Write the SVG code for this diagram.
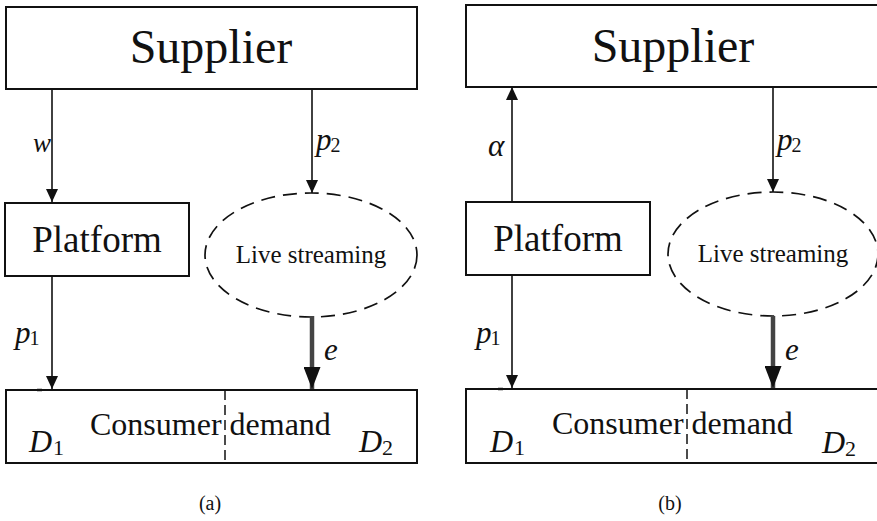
<svg xmlns="http://www.w3.org/2000/svg" width="877" height="521" viewBox="0 0 877 521">
<style>
.box{fill:#fff;stroke:#111;stroke-width:2}
.ell{fill:#fff;stroke:#111;stroke-width:1.7;stroke-dasharray:14 8}
.div{stroke:#111;stroke-width:1.5;stroke-dasharray:10 5}
.arr{stroke:#111;stroke-width:1.6;fill:none}
.thick{stroke:#444;stroke-width:4.5;fill:none}
text{fill:#111;font-family:"Liberation Serif","Times New Roman",serif}
.big{font-size:48px;text-anchor:middle}
.plat{font-size:37px;text-anchor:middle}
.live{font-size:25px;text-anchor:middle}
.cons{font-size:32px}
.it{font-style:italic;font-size:31px}
.w{font-style:italic;font-size:27px}
.sub{font-style:normal;font-size:20px}
.dd{font-style:italic;font-size:32px}
.dsub{font-style:normal;font-size:22px}
.cap{font-size:20px;text-anchor:middle}
</style>
<defs>
<marker id="ah" markerUnits="userSpaceOnUse" markerWidth="13" markerHeight="12" viewBox="0 0 13 12" refX="13" refY="6" orient="auto">
<path d="M0,0 L13,6 L0,12 Z" fill="#111"/>
</marker>
<marker id="ahb" markerUnits="userSpaceOnUse" markerWidth="22" markerHeight="17" viewBox="0 0 22 17" refX="22" refY="8.5" orient="auto">
<path d="M0,0 L22,8.5 L0,17 Z" fill="#111"/>
</marker>
</defs>

<g id="panel-a">
<g id="a-supplier"><rect class="box" x="6" y="7" width="411" height="82"/><text class="big" x="211" y="63">Supplier</text></g>
<g id="a-platform"><rect class="box" x="5" y="203" width="184" height="73"/><text class="plat" x="97" y="252">Platform</text></g>
<g id="a-live"><ellipse class="ell" cx="311" cy="255" rx="106" ry="62"/><text class="live" x="311" y="263">Live streaming</text></g>
<g id="a-demand"><rect class="box" x="6" y="390" width="411" height="73"/>
<line class="div" x1="225" y1="390" x2="225" y2="463"/>
<text class="cons" x="90" y="435">Consumer demand</text>
<text class="dd" x="29" y="452">D<tspan class="dsub" dx="1" dy="3">1</tspan></text>
<text class="dd" x="359" y="452">D<tspan class="dsub" dx="0" dy="3">2</tspan></text>
<line x1="37" y1="390" x2="42" y2="390" stroke="#111" stroke-width="2.5"/>
</g>
<g id="a-connectors">
<line class="arr" x1="52" y1="89" x2="52" y2="202" marker-end="url(#ah)"/>
<line class="arr" x1="312" y1="89" x2="312" y2="193" marker-end="url(#ah)"/>
<line class="arr" x1="52" y1="276" x2="52" y2="389" marker-end="url(#ah)"/>
<line class="thick" x1="312" y1="316" x2="312" y2="389" marker-end="url(#ahb)"/>
<text class="w" x="33" y="152">w</text>
<text class="it" x="316" y="150">p<tspan class="sub" dx="-1" dy="2">2</tspan></text>
<text class="it" x="15" y="343">p<tspan class="sub" dx="-1" dy="2">1</tspan></text>
<text class="it" x="324" y="360">e</text>
</g>
<text class="cap" x="210" y="510">(a)</text>
</g>

<g id="panel-b">
<g id="b-supplier"><rect class="box" x="466" y="5" width="420" height="82"/><text class="big" x="673" y="62">Supplier</text></g>
<g id="b-platform"><rect class="box" x="466" y="202" width="184" height="73"/><text class="plat" x="558" y="251">Platform</text></g>
<g id="b-live"><ellipse class="ell" cx="773" cy="254" rx="105" ry="62"/><text class="live" x="773" y="262">Live streaming</text></g>
<g id="b-demand"><rect class="box" x="466" y="389" width="420" height="74"/>
<line class="div" x1="687" y1="389" x2="687" y2="463"/>
<text class="cons" x="552" y="434">Consumer demand</text>
<text class="dd" x="490" y="452">D<tspan class="dsub" dx="1" dy="3">1</tspan></text>
<text class="dd" x="822" y="453">D<tspan class="dsub" dx="0" dy="3">2</tspan></text>
<line x1="498" y1="389" x2="503" y2="389" stroke="#111" stroke-width="2.5"/>
</g>
<g id="b-connectors">
<line class="arr" x1="512" y1="202" x2="512" y2="87" marker-end="url(#ah)"/>
<line class="arr" x1="773" y1="87" x2="773" y2="192" marker-end="url(#ah)"/>
<line class="arr" x1="512" y1="275" x2="512" y2="388" marker-end="url(#ah)"/>
<line class="thick" x1="773" y1="316" x2="773" y2="388" marker-end="url(#ahb)"/>
<text class="it" x="488" y="156">α</text>
<text class="it" x="777" y="150">p<tspan class="sub" dx="-1" dy="2">2</tspan></text>
<text class="it" x="476" y="343">p<tspan class="sub" dx="-1" dy="2">1</tspan></text>
<text class="it" x="785" y="360">e</text>
</g>
<text class="cap" x="670" y="510">(b)</text>
</g>
</svg>
